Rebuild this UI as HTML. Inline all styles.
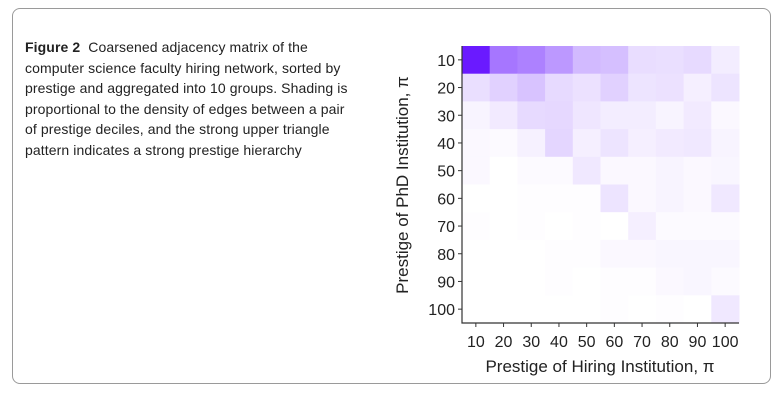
<!DOCTYPE html>
<html><head><meta charset="utf-8"><style>
body{margin:0;width:783px;height:420px;background:#fff;font-family:"Liberation Sans",sans-serif;position:relative;overflow:hidden}
#box{position:absolute;left:12px;top:8px;width:759px;height:376px;border:1px solid #9a9a9a;border-radius:8px;box-sizing:border-box}
#cap{position:absolute;left:25px;top:37px;font-size:14px;line-height:20.6px;color:#222;white-space:nowrap;letter-spacing:0.1px}
svg{position:absolute;left:0;top:0}
</style></head><body>
<div id="box"></div>
<div id="cap"><b>Figure 2</b>&nbsp; Coarsened adjacency matrix of the<br>computer science faculty hiring network, sorted by<br>prestige and aggregated into 10 groups. Shading is<br>proportional to the density of edges between a pair<br>of prestige deciles, and the strong upper triangle<br>pattern indicates a strong prestige hierarchy</div>
<svg id="chart" width="783" height="420"></svg>
<script>
const hiringLabels=[10,20,30,40,50,60,70,80,90,100];
const phdLabels=[10,20,30,40,50,60,70,80,90,100];
const densityRows=[
[1.0,0.6,0.55,0.45,0.3,0.28,0.15,0.14,0.16,0.08],
[0.14,0.2,0.26,0.16,0.13,0.2,0.12,0.13,0.07,0.12],
[0.05,0.09,0.16,0.17,0.11,0.08,0.08,0.05,0.09,0.03],
[0.03,0.02,0.06,0.18,0.07,0.12,0.07,0.09,0.1,0.05],
[0.03,0.0,0.02,0.02,0.1,0.03,0.03,0.05,0.03,0.04],
[0.0,0.0,0.01,0.01,0.01,0.12,0.03,0.05,0.03,0.1],
[0.01,0,0.01,0,0.01,0,0.07,0.02,0.02,0.02],
[0,0,0,0.01,0.01,0.03,0.03,0.04,0.04,0.04],
[0,0,0,0.01,0,0.01,0.01,0.03,0.04,0.02],
[0,0,0,0,0,0.01,0,0.01,0,0.1]];
const svg=document.getElementById('chart');
const NS='http://www.w3.org/2000/svg';
const X0=462,Y0=46,W=277,H=277;
const cw=W/hiringLabels.length,ch=H/phdLabels.length;
const xPos=i=>X0+i*cw, yPos=j=>Y0+j*ch;
function col(v){const r=Math.round(255-v*(255-106)),g=Math.round(255-v*(255-26)),b=255;return `rgb(${r},${g},${b})`;}
function mk(t,a){const e=document.createElementNS(NS,t);for(const k in a)e.setAttribute(k,a[k]);svg.appendChild(e);return e;}
densityRows.forEach((row,j)=>row.forEach((v,i)=>{
const r=mk('rect',{x:xPos(i),y:yPos(j),width:cw+0.5,height:ch+0.5,fill:col(v)});


}));
const ax=mk('path',{d:`M${X0} ${Y0}V${Y0+H}H${X0+W}`,stroke:'#333',fill:'none','stroke-width':1.2});


hiringLabels.forEach((l,i)=>{
const cx=xPos(i)+cw/2;
mk('line',{x1:cx,x2:cx,y1:Y0+H,y2:Y0+H+4,stroke:'#333'});
const t=mk('text',{x:cx,y:Y0+H+24,'text-anchor':'middle','font-size':16,fill:'#222'});t.textContent=l;


});
phdLabels.forEach((l,j)=>{
const cy=yPos(j)+ch/2;
mk('line',{x1:X0-4,x2:X0,y1:cy,y2:cy,stroke:'#333'});
const t=mk('text',{x:X0-7,y:cy+6,'text-anchor':'end','font-size':16,fill:'#222'});t.textContent=l;


});
const xt=mk('text',{x:600,y:372,'text-anchor':'middle','font-size':17,fill:'#222'});xt.textContent='Prestige of Hiring Institution, π';


const yt=mk('text',{x:0,y:0,'text-anchor':'middle','font-size':17,fill:'#222',transform:'translate(408,185) rotate(-90)'});yt.textContent='Prestige of PhD Institution, π';


</script>
</body></html>
